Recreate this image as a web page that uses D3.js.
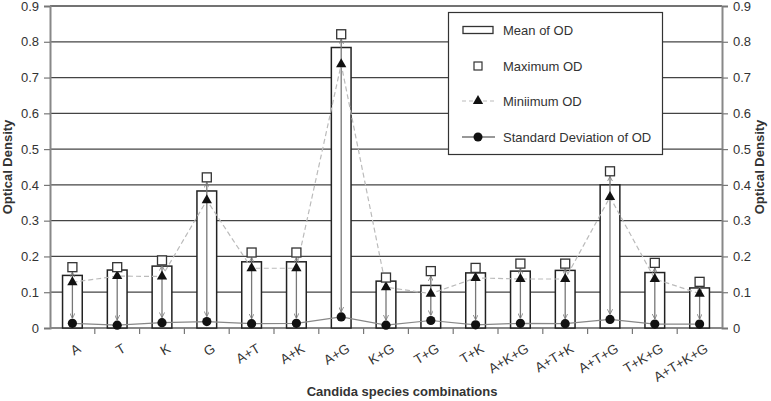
<!DOCTYPE html>
<html><head><meta charset="utf-8">
<script src="https://cdn.jsdelivr.net/npm/d3@7"></script>
<style>body{margin:0;background:#fff}svg{display:block}text{font-family:"Liberation Sans",Arial,sans-serif;fill:#333}</style>
</head><body><svg id="c" width="771" height="401"></svg>
<script>
const categories = ["A","T","K","G","A+T","A+K","A+G","K+G","T+G","T+K","A+K+G","A+T+K","A+T+G","T+K+G","A+T+K+G"];
const meanOD = [0.147,0.162,0.173,0.383,0.185,0.185,0.784,0.131,0.119,0.154,0.159,0.161,0.400,0.155,0.112];
const maxOD  = [0.170,0.170,0.189,0.421,0.211,0.211,0.821,0.141,0.159,0.168,0.180,0.180,0.438,0.182,0.129];
const minOD  = [0.128,0.145,0.144,0.357,0.167,0.167,0.737,0.114,0.096,0.140,0.137,0.137,0.366,0.137,0.096];
const sdOD   = [0.013,0.008,0.015,0.018,0.012,0.013,0.031,0.008,0.021,0.009,0.013,0.012,0.024,0.011,0.011];
const yTicks = [0,0.1,0.2,0.3,0.4,0.5,0.6,0.7,0.8,0.9];
const legendLabels = ["Mean of OD","Maximum OD","Miniimum OD","Standard Deviation of OD"];

const svg = d3.select("#c");
const L=50, R=722, T=6, B=328;
const x = d3.scaleBand().domain(categories).range([L,R]).padding(0);
const y = d3.scaleLinear().domain([0,0.9]).range([B,T]);
const cx = c => x(c)+x.bandwidth()/2;
const bw = x.bandwidth()*0.44;

// gridlines
svg.append("g").selectAll("line").data(yTicks.filter(d=>d>0)).join("line")
  .attr("x1",L).attr("x2",R).attr("y1",d=>y(d)).attr("y2",d=>y(d))
  .attr("stroke","#444").attr("stroke-width",1.3);

// axes
const yl = svg.append("g").attr("transform",`translate(${L},0)`)
  .call(d3.axisLeft(y).tickValues(yTicks).tickFormat(d=>d===0?"0":d3.format(".1f")(d)).tickSize(6).tickPadding(5));
const yr = svg.append("g").attr("transform",`translate(${R},0)`)
  .call(d3.axisRight(y).tickValues(yTicks).tickFormat(d=>d===0?"0":d3.format(".1f")(d)).tickSize(6).tickPadding(5));
[yl,yr].forEach(g=>{
  g.select(".domain").attr("stroke","#888").attr("stroke-width",2);
  g.selectAll(".tick line").attr("stroke","#777").attr("stroke-width",1.2);
  g.selectAll("text").attr("font-size",13).attr("fill","#333").style("font-family","Liberation Sans, Arial, sans-serif");
});
// x axis line and ticks at category boundaries
svg.append("line").attr("x1",L).attr("x2",R).attr("y1",B).attr("y2",B).attr("stroke","#888").attr("stroke-width",2);
svg.append("g").selectAll("line").data(categories.slice(1)).join("line")
  .attr("x1",d=>x(d)).attr("x2",d=>x(d)).attr("y1",B).attr("y2",B+6)
  .attr("stroke","#777").attr("stroke-width",1.2);
svg.append("g").selectAll("text").data(categories).join("text")
  .attr("transform",d=>`translate(${cx(d)+7},${B+19}) rotate(-31)`)
  .attr("text-anchor","end").attr("dy","0.35em").attr("font-size",13.5).text(d=>d);

// bars
svg.append("g").selectAll("rect").data(categories).join("rect")
  .attr("x",d=>cx(d)-bw/2).attr("width",bw)
  .attr("y",(d,i)=>y(meanOD[i])).attr("height",(d,i)=>B-y(meanOD[i]))
  .attr("fill","#fff").attr("stroke","#222").attr("stroke-width",1.5);

// arrows sd->max
const defs = svg.append("defs");
defs.append("marker").attr("id","ah").attr("viewBox","0 0 10 10").attr("refX",10).attr("refY",5)
  .attr("markerWidth",4).attr("markerHeight",4).attr("orient","auto-start-reverse")
  .append("path").attr("d","M0,0 L10,5 L0,10").attr("fill","none").attr("stroke","#777").attr("stroke-width",1.5);
svg.append("g").selectAll("line").data(categories).join("line")
  .attr("x1",d=>cx(d)).attr("x2",d=>cx(d))
  .attr("y1",(d,i)=>y(sdOD[i])-5).attr("y2",(d,i)=>y(maxOD[i])+5)
  .attr("stroke","#777").attr("stroke-width",1.3)
  .attr("marker-start","url(#ah)").attr("marker-end","url(#ah)");

// min dashed line
svg.append("path").datum(categories)
  .attr("d",d3.line().x(d=>cx(d)).y((d,i)=>y(minOD[i])))
  .attr("fill","none").attr("stroke","#bbb").attr("stroke-width",1.2).attr("stroke-dasharray","5,3");
// sd line
svg.append("path").datum(categories)
  .attr("d",d3.line().x(d=>cx(d)).y((d,i)=>y(sdOD[i])))
  .attr("fill","none").attr("stroke","#888").attr("stroke-width",1.2);

const tri = d3.symbol().type(d3.symbolTriangle).size(46);
svg.append("g").selectAll("path").data(categories).join("path")
  .attr("transform",(d,i)=>`translate(${cx(d)},${y(minOD[i])})`).attr("d",tri).attr("fill","#111");
svg.append("g").selectAll("rect").data(categories).join("rect")
  .attr("x",d=>cx(d)-4.5).attr("y",(d,i)=>y(maxOD[i])-4.5).attr("width",9).attr("height",9)
  .attr("fill","#fff").attr("stroke","#333").attr("stroke-width",1.3);
svg.append("g").selectAll("circle").data(categories).join("circle")
  .attr("cx",d=>cx(d)).attr("cy",(d,i)=>y(sdOD[i])).attr("r",4.6).attr("fill","#111");

// legend
const lg = svg.append("g");
lg.append("rect").attr("x",448.5).attr("y",12.5).attr("width",214).attr("height",142)
  .attr("fill","#fff").attr("stroke","#333").attr("stroke-width",1.2);
const rows=[30,66,101,137], sx=478;
lg.append("rect").attr("x",463).attr("y",rows[0]-3.5).attr("width",30).attr("height",7).attr("fill","#fff").attr("stroke","#333").attr("stroke-width",1.3);
lg.append("rect").attr("x",sx-4).attr("y",rows[1]-4).attr("width",8).attr("height",8).attr("fill","#fff").attr("stroke","#333").attr("stroke-width",1.2);
lg.append("line").attr("x1",462).attr("x2",495).attr("y1",rows[2]).attr("y2",rows[2]).attr("stroke","#bbb").attr("stroke-dasharray","4,3").attr("stroke-width",1.2);
lg.append("path").attr("transform",`translate(${sx},${rows[2]})`).attr("d",tri).attr("fill","#111");
lg.append("line").attr("x1",462).attr("x2",495).attr("y1",rows[3]).attr("y2",rows[3]).attr("stroke","#333").attr("stroke-width",1.2);
lg.append("circle").attr("cx",sx).attr("cy",rows[3]).attr("r",4.5).attr("fill","#111");
lg.selectAll("text").data(legendLabels).join("text")
  .attr("x",503).attr("y",(d,i)=>rows[i]).attr("dy","0.35em").attr("font-size",13).text(d=>d);

// axis titles
svg.append("text").attr("transform",`translate(12,${(T+B)/2}) rotate(-90)`).attr("text-anchor","middle")
  .attr("font-size",13).attr("font-weight","bold").text("Optical Density");
svg.append("text").attr("transform",`translate(764,${(T+B)/2}) rotate(-90)`).attr("text-anchor","middle")
  .attr("font-size",13).attr("font-weight","bold").text("Optical Density");
svg.append("text").attr("x",402).attr("y",396).attr("text-anchor","middle")
  .attr("font-size",13).attr("font-weight","bold").text("Candida species combinations");
</script></body></html>
